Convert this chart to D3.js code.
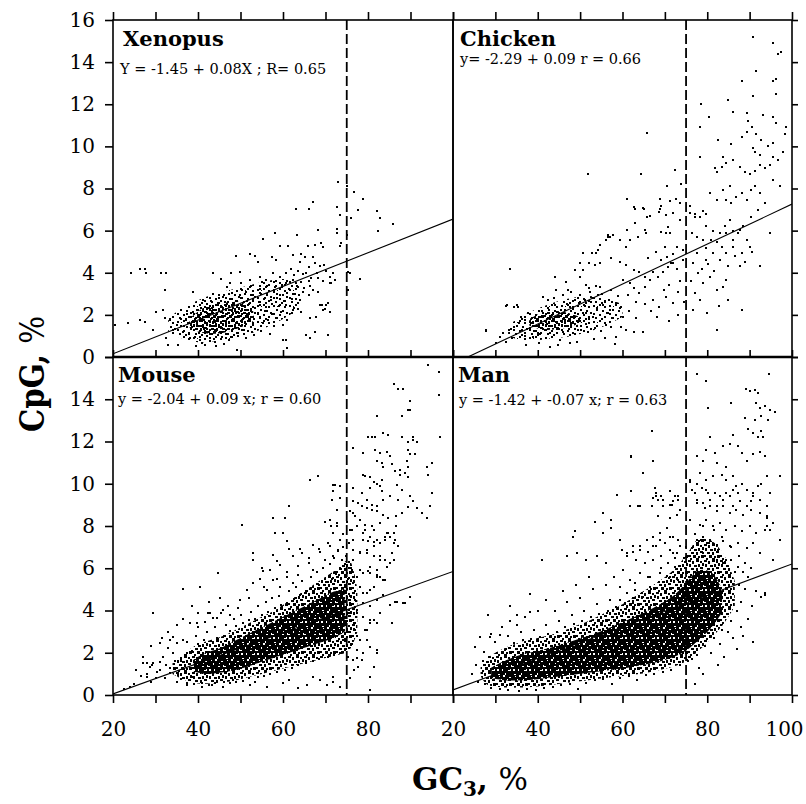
<!DOCTYPE html>
<html><head><meta charset="utf-8">
<script src="https://cdn.jsdelivr.net/npm/d3@7"></script>
<style>body{margin:0;background:#fff}svg{display:block}</style>
</head><body>
<svg id="c" width="806" height="804"></svg>
<script>
// ---------------- DATA ----------------
const panels = ["Xenopus", "Chicken", "Mouse", "Man"];
const equations = [
  "Y = -1.45 + 0.08X ; R= 0.65",
  "y= -2.29 + 0.09 r = 0.66",
  "y = -2.04 + 0.09 x; r = 0.60",
  "y = -1.42 + -0.07 x; r = 0.63"
];
// regression lines as drawn in the picture
const fitIntercepts = [-1.45, -2.23, -1.40, -1.25];
const fitSlopes = [0.080, 0.0949, 0.0725, 0.0745];
const cutoffGC3 = 75;
const xDomain = [20, 100];
const yDomain = [0, 16];
const xTicks = [20, 30, 40, 50, 60, 70, 80, 90, 100];
const xLabelsLeft = [20, 40, 60, 80];
const xLabelsRight = [20, 40, 60, 80, 100];
const yTicks = [0, 2, 4, 6, 8, 10, 12, 14, 16];
const yLabelsTop = [0, 2, 4, 6, 8, 10, 12, 14, 16];
const yLabelsBottom = [0, 2, 4, 6, 8, 10, 12, 14];

// scatter points (GC3 %, CpG %), flat x,y lists
const xenopusPts = [
72.9,8.3, 75.0,8.1, 76.8,7.85, 78.9,7.5, 77.7,7.0, 82.0,6.95, 82.4,6.0, 82.8,6.6, 85.8,6.3, 76.0,6.6, 72.6,7.1, 73.4,6.75, 72.6,6.1, 75.0,5.8, 78.0,3.7, 75.4,4.05, 75.2,3.2,
67.0,7.35, 66.0,7.05, 63.0,7.05, 68.3,6.05, 63.4,5.8, 58.1,5.9, 55.4,5.6, 72.8,5.9, 59.2,5.27, 61.2,5.27, 65.9,5.27, 67.6,5.3, 69.0,5.4, 69.4,5.24, 73.7,5.4, 73.3,5.27,
49.0,4.8, 52.2,4.87, 53.3,4.8, 54.1,4.5, 57.3,4.76, 58.4,4.6, 62.4,4.84, 64.3,4.9, 65.1,4.73, 63.9,4.5, 67.1,4.73, 67.5,4.45, 68.6,4.3, 70.2,4.1,
24.3,4.0, 26.3,4.16, 27.5,4.16, 27.8,4.0, 31.4,4.0, 32.5,4.0, 32.2,3.2, 38.8,3.1, 43.5,3.97, 47.8,3.97, 49.8,4.05, 45.5,3.7, 47.5,3.5, 50.2,3.5, 52.2,3.65,
54.5,3.8, 56.1,3.65, 57.6,4.0, 59.2,3.8, 60.8,4.0, 62.7,3.9, 65.5,4.0, 66.7,3.73, 68.2,3.73, 71.0,3.8, 72.2,3.65, 71.4,3.5, 75.7,3.97, 67.1,3.2, 68.2,3.1, 66.3,3.35,
68.6,2.47, 70.2,2.47, 71.0,2.15, 69.4,2.23, 63.5,2.3, 64.3,2.15, 66.3,1.84, 67.8,1.9, 65.5,1.04, 60.8,0.8, 30.2,2.15, 31.8,2.23, 26.3,1.76, 23.5,1.6, 20.4,1.5,
27.5,1.68, 29.4,1.3, 32.2,1.84, 33.3,1.76, 34.1,1.3, 32.5,0.9, 35.7,1.1, 39.6,0.5, 41.6,0.55, 44.3,0.5, 49.1,0.33, 60.9,0.41, 33.0,0.55, 35.3,0.55, 67.5,1.2,
70.7,1.04, 66.4,0.89, 60.1,0.8, 69.1,2.47, 70.7,2.55, 69.9,2.3, 71.8,3.97, 71.0,3.5,
38.2,0.9, 40.5,0.8, 42.1,1.0, 43.8,0.85, 45.6,0.95, 47.2,0.8, 49.5,1.0, 51.3,0.9, 53.2,1.05,
36.4,1.2, 37.9,1.1, 39.1,1.3, 40.3,1.15, 41.6,1.25, 42.8,1.1, 44.0,1.3, 45.2,1.2, 46.7,1.1, 48.0,1.28, 49.3,1.15, 50.8,1.3, 52.6,1.2, 54.9,1.25, 57.0,1.1,
35.1,1.5, 36.6,1.45, 37.6,1.6, 38.7,1.42, 39.8,1.55, 40.9,1.48, 42.0,1.6, 43.1,1.45, 44.3,1.58, 45.4,1.42, 46.5,1.55, 47.7,1.48, 48.9,1.6, 50.1,1.45, 51.4,1.55, 53.0,1.5, 55.2,1.6, 57.8,1.45, 59.9,1.5,
36.0,1.8, 37.2,1.75, 38.3,1.9, 39.4,1.72, 40.5,1.85, 41.5,1.78, 42.6,1.92, 43.7,1.75, 44.8,1.88, 45.9,1.72, 47.0,1.85, 48.1,1.78, 49.2,1.9, 50.4,1.75, 51.7,1.88, 53.1,1.8, 54.6,1.9, 56.4,1.75, 58.5,1.85, 61.0,1.78,
37.5,2.05, 38.9,2.15, 40.0,2.0, 41.1,2.2, 42.3,2.05, 43.4,2.18, 44.5,2.02, 45.6,2.15, 46.8,2.05, 47.9,2.2, 49.0,2.08, 50.2,2.2, 51.5,2.05, 52.8,2.15, 54.2,2.1, 55.8,2.2, 57.5,2.05, 59.6,2.15, 62.0,2.1,
39.0,2.4, 40.6,2.35, 42.0,2.5, 43.2,2.32, 44.4,2.45, 45.7,2.38, 46.9,2.5, 48.2,2.35, 49.5,2.48, 50.8,2.4, 52.1,2.5, 53.4,2.35, 54.7,2.45, 56.0,2.38, 57.4,2.5, 59.0,2.4, 60.7,2.48, 62.6,2.35,
41.2,2.7, 43.0,2.65, 44.9,2.78, 46.3,2.62, 47.6,2.75, 48.9,2.68, 50.2,2.8, 51.6,2.65, 53.0,2.75, 54.4,2.62, 55.7,2.78, 57.1,2.7, 58.6,2.8, 60.3,2.66, 62.1,2.75, 64.0,2.7,
43.6,3.0, 46.0,2.95, 48.0,3.05, 49.8,2.92, 51.3,3.1, 53.0,2.95, 54.6,3.05, 56.2,2.98, 57.8,3.1, 59.3,2.95, 61.0,3.05, 62.8,3.0, 64.6,3.1, 66.0,2.95,
46.8,3.3, 50.0,3.25, 52.4,3.35, 54.5,3.22, 56.3,3.38, 58.0,3.3, 59.7,3.4, 61.5,3.25, 63.3,3.35, 65.0,3.28,
55.0,3.55, 58.4,3.6, 60.6,3.5, 62.4,3.65, 64.2,3.55, 66.0,3.62, 69.5,3.6, 61.8,4.2, 63.6,4.1, 66.0,4.25, 68.0,4.0, 69.7,4.35, 64.8,3.95,
38.5,1.65, 39.9,2.25, 41.3,1.35, 42.5,2.35, 43.9,1.65, 45.0,2.55, 46.2,1.32, 47.4,2.25, 48.6,1.4, 44.1,0.7, 41.0,0.65, 46.0,0.6, 47.7,0.95, 39.4,0.95, 42.9,0.75
];

const chickenPts = [
90.7,15.2, 95.5,14.9, 96.7,14.4, 97.5,14.5, 95.5,13.1, 96.3,13.2, 96.3,12.5, 88.1,13.1, 84.9,12.2, 90.7,12.4, 91.6,13.6, 78.6,12.0, 80.5,11.4, 86.1,11.65, 89.3,11.57, 93.2,11.5, 95.5,11.4, 96.3,11.1,
78.3,10.9, 82.6,10.3, 85.7,10.1, 88.1,10.45, 89.3,10.7, 90.5,10.9, 89.7,11.2, 91.6,10.6, 92.8,10.3, 94.4,10.0, 95.5,10.15, 98.7,10.9, 98.3,10.6, 97.9,9.75,
90.9,9.9, 91.3,9.75, 92.4,9.6, 83.8,9.5, 84.5,9.2, 86.1,9.35, 81.8,8.95, 82.2,8.8, 83.4,9.0, 87.7,9.0, 88.9,8.8, 90.1,8.7, 91.2,8.85, 92.4,9.1, 93.6,8.95, 94.8,9.1, 95.5,9.5, 96.7,9.35,
78.3,9.5, 65.7,10.65, 51.9,8.7, 64.3,8.7, 72.4,8.9, 73.9,8.2, 61.0,7.5, 62.9,7.05, 65.0,7.05, 68.8,7.5, 69.2,7.15, 71.2,7.4, 72.7,7.5, 73.5,7.3, 75.9,7.15, 77.1,6.8, 78.3,6.65, 79.1,6.95, 79.8,6.8,
80.6,7.77, 82.2,7.45, 83.8,7.93, 85.3,8.1, 84.5,7.45, 85.7,7.3, 86.9,7.6, 88.1,7.77, 89.3,7.45, 90.4,7.93, 91.2,8.1, 92.4,7.77, 93.6,7.3, 95.5,8.4, 97.1,8.1,
79.8,6.2, 81.4,6.0, 83.0,5.87, 84.2,6.2, 85.3,6.5, 86.1,6.0, 87.3,5.87, 88.5,6.2, 90.4,6.65, 92.0,7.0,
89.3,5.55, 90.0,5.24, 88.1,4.92, 86.1,5.24, 84.5,4.92, 83.4,5.24, 81.4,4.92, 79.8,4.6, 77.5,4.92, 76.7,4.45,
77.9,3.97, 79.0,3.5, 80.6,3.8, 82.2,3.18, 83.8,3.34, 84.5,3.65, 87.7,4.3, 92.4,4.3, 94.8,5.87, 88.1,2.23, 82.2,1.28, 77.1,3.02, 78.3,2.7, 76.7,2.23,
75.9,6.82, 77.1,6.66, 76.3,5.87, 77.5,5.71, 79.0,5.55, 79.8,5.16, 81.0,5.55, 82.2,5.47, 84.5,5.87, 86.1,5.55, 87.7,6.03,
70.4,8.1, 68.8,7.05, 72.0,6.82, 73.5,6.5, 71.2,5.87, 72.8,5.24, 74.3,4.6, 72.0,4.45, 70.4,4.76,
65.7,6.66, 61.0,6.03, 62.9,6.35, 59.4,5.55, 56.6,5.68, 54.7,5.32, 52.7,4.92, 33.4,4.2, 32.7,2.47, 35.0,2.47, 27.9,1.28,
27.7,1.23, 32.6,2.42, 34.5,2.39, 35.3,2.39, 31.0,0.97, 31.8,1.12, 30.2,0.65, 34.5,1.44, 36.1,1.91, 36.9,1.76, 37.7,2.07, 38.1,1.36, 38.9,0.97, 40.0,1.12,
41.2,2.86, 42.4,2.7, 44.0,3.78, 47.1,3.18, 48.7,2.7, 47.5,2.39, 49.9,4.48, 50.7,4.92, 52.2,4.45, 53.4,4.37, 54.6,4.48,
48.7,4.13, 49.9,3.81, 51.4,3.42, 52.2,3.26, 53.8,3.37, 54.6,3.31, 51.1,2.7, 53.0,2.78, 54.2,2.94, 55.8,2.63, 56.9,2.7, 58.5,2.55, 59.3,2.31,
51.4,2.07, 53.0,1.91, 54.6,1.99, 56.6,2.07, 57.7,1.84, 60.1,1.91, 53.8,4.92, 57.0,5.71, 57.7,5.79, 60.9,5.24, 61.7,5.55, 63.6,5.71, 65.2,6.03, 65.6,5.87,
57.3,4.68, 59.3,4.53, 60.9,4.37, 62.8,4.13, 64.0,4.05, 65.2,3.81, 66.4,3.65, 67.2,4.05, 68.3,3.81, 69.5,4.05, 70.7,4.29, 71.5,4.45,
60.1,3.65, 61.7,3.5, 62.8,3.26, 64.0,3.02, 65.2,3.34, 67.2,2.7, 68.7,2.39, 70.3,2.86, 71.9,2.55, 59.7,1.44, 60.9,1.28, 62.8,1.2, 64.8,1.2,
56.2,1.52, 57.3,1.44, 58.5,0.97, 47.5,0.65, 45.2,0.81, 42.8,0.49, 40.4,0.65, 37.3,0.57,
62.8,7.14, 64.8,7.06, 66.4,6.69, 68.7,6.9, 70.3,6.74, 70.7,6.19, 69.1,5.95, 70.3,5.87, 56.6,5.79, 56.2,5.55, 54.2,5.08, 50.7,4.13, 46.7,3.58, 44.4,3.18,
38.5,1.6, 39.3,1.85, 40.1,1.45, 40.8,1.7, 41.5,1.95, 42.2,1.55, 42.9,1.8, 43.6,2.05, 44.3,1.65, 45.0,1.9, 45.7,1.5, 46.4,1.75, 47.1,2.0, 47.8,1.6, 48.5,1.85, 49.2,1.45, 49.9,1.7, 50.6,2.1, 51.3,1.55, 52.0,1.8,
39.0,1.25, 40.5,1.1, 41.8,1.3, 43.0,1.15, 44.6,1.32, 46.0,1.2, 47.4,1.35, 48.9,1.1, 50.3,1.3, 51.9,1.18, 53.5,1.4, 55.0,1.25,
41.0,2.2, 42.5,2.35, 44.0,2.45, 45.4,2.25, 46.9,2.5, 48.3,2.3, 49.7,2.55, 51.2,2.4, 52.6,2.6, 54.0,2.35, 55.5,2.45, 57.0,2.25,
37.0,1.0, 36.2,1.3, 35.5,1.6, 34.0,0.9, 33.2,1.3, 32.4,0.7, 43.8,2.8, 45.9,2.95, 47.9,3.1, 50.0,2.95, 52.4,3.1, 55.1,3.0, 57.3,3.2, 58.9,2.9, 61.2,2.95, 63.3,2.6, 65.4,2.5, 66.8,2.2, 68.1,1.9, 63.1,1.85, 61.5,2.2,
53.2,0.85, 55.8,0.9, 58.3,0.6, 49.3,0.7, 44.8,0.55,
66.0,4.7, 67.8,5.0, 69.0,4.6, 70.0,5.2, 71.8,4.9, 72.9,4.2, 73.6,3.6, 74.2,5.1, 73.0,3.1, 71.0,3.4, 69.8,3.2, 74.6,2.6, 73.2,2.0, 70.9,1.7, 76.2,3.6, 78.8,4.2, 80.2,4.4, 81.6,4.1, 83.0,4.6, 84.8,4.3, 86.6,4.8, 88.8,4.5, 90.6,5.0, 85.0,2.7, 82.8,2.4, 80.0,2.1
];

const mousePts = [
94.0,15.6, 96.8,15.3, 96.6,14.2, 86.0,14.7, 87.1,14.5, 88.3,14.5, 89.9,13.9, 89.5,13.5, 82.2,13.2, 87.9,13.2, 89.9,13.5,
80.1,12.2, 80.9,12.2, 81.6,12.2, 83.6,12.4, 84.8,12.3, 87.9,12.2, 90.7,12.2, 91.5,12.0, 96.9,12.2, 89.5,12.0, 90.7,12.05,
76.5,11.7, 78.9,11.45, 81.6,11.6, 82.8,11.45, 84.4,11.5, 85.2,11.3, 82.0,11.1, 83.6,10.8, 85.6,10.95, 87.5,10.66, 88.7,10.5, 89.5,10.8, 93.8,10.8, 95.0,11.0,
89.5,11.6, 89.9,11.4, 91.1,11.4, 83.2,11.0, 89.1,11.1, 94.2,10.4, 78.9,10.4, 80.5,10.3, 82.0,10.0, 83.2,10.2, 86.4,10.6, 87.5,10.4, 89.5,10.3,
79.3,10.35, 81.3,10.1, 82.8,9.87, 71.8,9.95, 73.4,9.87, 66.4,10.2, 68.3,10.35, 76.5,9.8, 80.5,9.8, 83.2,9.67, 86.8,9.95, 87.9,9.7,
78.5,9.56, 79.7,9.24, 80.9,9.0, 82.0,8.93, 83.6,9.24, 85.2,9.4, 90.7,9.2, 89.5,8.9, 91.5,8.85, 95.0,9.56, 92.6,8.6, 93.8,8.4, 87.1,9.24, 89.9,9.4, 94.6,8.93,
87.9,8.6, 86.7,7.98, 86.0,7.66, 76.5,8.6, 78.1,8.3, 77.3,7.98, 79.3,7.82, 80.5,7.5, 82.0,7.35, 84.0,7.5, 84.8,7.66, 86.4,7.35, 87.1,7.03, 85.6,6.71,
76.5,9.16, 77.7,9.08, 78.5,8.93, 79.7,8.85, 80.9,8.77, 82.0,8.69, 83.6,8.53, 84.8,8.37, 86.7,8.45, 75.8,8.69, 77.0,8.45, 79.3,8.06, 80.9,7.98, 82.8,8.14, 84.4,7.66, 85.2,7.5,
75.8,7.82, 78.9,7.35, 80.1,7.27, 81.3,7.22, 82.8,7.19, 84.0,7.35, 86.0,7.19, 76.5,6.87, 78.1,6.79, 79.7,6.71, 81.3,6.56, 82.8,6.56, 84.0,6.4, 85.2,6.24, 86.0,6.4,
76.2,5.92, 77.3,5.6, 78.9,5.77, 80.1,5.85, 82.0,5.69, 82.8,5.6, 84.0,5.45, 82.8,6.4, 84.4,6.08, 82.0,5.92, 80.5,5.77, 83.6,5.45,
78.9,4.82, 80.5,4.98, 82.0,4.5, 83.6,4.74, 85.2,4.27, 86.8,4.38, 88.3,4.34, 89.9,4.66, 77.3,3.87, 78.9,3.71, 80.5,3.55, 82.0,3.4, 82.8,3.87, 86.4,4.4, 88.7,4.35, 85.6,3.4,
79.7,2.6, 82.0,2.13, 78.5,1.66, 77.3,1.74, 82.0,1.97, 79.3,3.08, 80.5,3.4, 71.8,0.63, 80.5,0.24,
72.2,9.95, 71.8,9.64, 71.5,9.24, 73.4,9.32, 72.6,8.77, 71.1,8.29, 72.6,7.98, 71.8,7.66, 73.4,7.35, 71.1,7.03, 73.0,6.87, 71.8,6.56, 73.8,6.4,
50.3,8.05, 57.7,8.4, 60.5,8.4, 58.1,7.66, 60.0,7.66, 61.3,8.93, 60.9,7.27, 53.0,6.7, 53.0,6.4, 55.0,6.0, 55.4,5.85, 57.7,6.63, 58.5,6.32,
44.8,5.77, 40.5,5.1, 36.4,5.0, 45.2,4.6, 29.5,3.9, 31.1,2.45, 27.9,1.5, 29.1,1.42, 33.4,2.6, 38.1,3.4, 40.1,3.24, 42.4,3.87, 43.6,3.63,
67.1,7.11, 69.9,8.2, 71.2,7.98, 72.6,8.14, 57.7,6.63, 59.3,6.16, 62.4,6.56, 64.4,6.71, 66.0,6.24, 67.1,5.92, 68.7,6.79, 69.9,6.4,
49.9,4.5, 51.5,4.98, 53.0,5.3, 56.2,4.98, 57.7,5.45, 59.3,5.13, 60.9,5.6, 62.4,5.3, 63.6,5.69, 39.7,3.4, 41.6,3.47, 42.8,3.87, 44.4,3.63, 45.9,4.03, 47.5,3.79,
34.2,2.76, 35.0,2.45, 36.5,2.6, 33.0,2.21, 31.8,1.82, 31.1,1.58, 29.5,1.5, 28.7,1.34, 27.1,1.5, 27.9,0.87, 30.3,1.1, 32.2,0.79, 33.4,1.03, 35.0,0.63, 37.3,0.47, 38.9,0.87,
40.9,0.4, 43.2,0.47, 45.9,0.4, 48.3,0.71, 52.2,0.47, 53.4,0.63, 56.2,0.4, 60.1,0.55, 61.3,0.71, 63.6,0.32, 65.6,0.47, 67.1,0.87, 68.7,0.71, 70.3,0.47, 71.8,0.87, 73.4,0.4,
75.8,3.55, 76.9,3.08, 78.1,2.6, 77.3,2.13, 78.9,1.97, 80.5,2.29, 79.7,3.08, 81.3,3.55, 76.5,1.66, 77.7,1.34, 80.5,0.87, 81.3,1.34, 75.8,4.34, 77.3,4.03, 78.9,4.34, 80.5,4.19, 82.0,4.5,
78.1,5.13, 79.7,4.82, 81.3,5.13, 82.0,5.6, 80.5,6.08, 78.1,5.92, 76.5,6.4, 78.1,6.71, 79.7,6.87, 81.3,7.03, 76.5,7.35, 78.9,7.66, 81.3,7.82, 82.0,7.35,
36.0,0.75, 37.5,0.55, 39.0,0.5, 41.0,0.55, 42.5,0.45, 44.0,0.55, 46.0,0.6, 47.5,0.55, 49.0,0.6, 50.5,0.65, 52.0,0.8, 54.0,0.85, 55.5,0.9, 57.0,1.0, 58.5,1.1, 60.5,1.2, 62.0,1.3, 63.5,1.4, 65.5,1.5, 67.0,1.6, 68.5,1.7, 70.5,1.8, 72.0,1.9, 73.5,2.0, 74.8,2.2,
36.0,1.6, 37.0,1.9, 38.5,2.1, 40.0,2.4, 41.5,2.6, 43.0,2.55, 44.5,2.7, 46.0,2.8, 47.5,3.05, 49.0,3.25, 50.5,3.4, 52.0,3.55, 53.5,3.6, 55.0,3.8, 56.5,3.95, 58.0,4.1, 59.5,4.25, 61.0,4.35, 62.5,4.55, 64.0,4.75, 65.5,4.9, 67.0,5.1, 68.5,5.2, 70.0,5.35, 71.5,5.5, 72.5,5.75, 73.5,6.0, 74.5,6.2,
37.5,2.5, 39.5,2.8, 42.0,3.0, 44.0,3.2, 46.5,3.3, 48.5,3.6, 50.0,3.8, 52.5,3.95, 54.0,4.2, 56.0,4.4, 57.5,4.6, 59.0,4.7, 61.5,4.9, 63.0,5.1, 64.5,5.4, 66.5,5.6, 68.0,5.8, 69.5,6.0, 71.0,6.2, 72.0,6.5, 73.0,6.8, 74.0,7.0,
33.5,1.3, 34.5,1.6, 35.2,0.95, 36.6,1.25, 34.0,2.0, 32.5,1.4, 31.0,1.2, 30.0,0.8, 29.0,0.6, 28.0,1.0, 26.5,0.9, 25.0,0.5, 24.0,0.4, 22.5,0.3,
45.5,3.9, 47.0,4.2, 49.5,4.1, 52.0,4.6, 55.5,5.1, 58.5,5.5, 61.0,5.8, 63.5,6.1, 66.0,6.5, 68.5,6.9, 70.5,7.2, 64.0,6.9, 61.5,6.9, 57.0,5.9, 54.5,5.5, 42.5,4.4, 40.0,3.9, 38.5,4.2, 36.5,3.6, 35.0,3.3, 33.0,3.0, 31.5,2.7, 29.0,2.3, 27.0,1.8, 25.5,1.2,
74.0,2.6, 75.0,3.0, 74.5,3.5, 75.5,3.9, 74.2,4.3, 75.8,4.7, 74.6,5.1, 75.2,5.5, 76.0,6.0, 74.8,6.6, 75.6,7.2, 76.3,7.8, 75.0,8.2, 74.2,7.6, 76.5,5.3, 77.0,4.5, 76.8,3.4, 77.5,2.8, 76.2,2.4, 75.4,1.8, 76.8,1.2, 75.8,0.8
];

const manPts = [
77.5,15.2, 79.7,14.85, 94.6,15.2, 89.1,14.5, 90.0,14.4, 91.2,14.45, 92.0,14.3, 85.7,13.8, 80.2,13.6, 91.6,13.8, 92.4,13.6, 93.6,13.7, 94.8,13.5, 95.9,13.4, 92.8,13.2, 94.4,13.0, 91.2,13.0,
88.9,13.1, 89.7,12.6, 90.8,12.4, 92.0,12.2, 92.8,12.5, 93.2,12.2, 66.9,12.5, 86.1,12.3, 85.3,11.9, 87.3,11.8, 88.1,11.45, 89.3,11.1, 90.8,11.4, 92.4,11.5, 93.6,11.3,
80.6,12.2, 79.8,11.6, 81.8,11.45, 83.8,11.8, 82.2,11.0, 84.5,10.8, 77.5,11.3, 79.0,11.1, 62.1,11.3, 67.1,11.1, 64.9,10.5, 94.0,10.35, 97.1,10.35, 61.9,11.26,
78.3,10.5, 79.8,10.2, 81.4,10.35, 83.4,10.4, 84.5,10.2, 86.1,10.35, 86.9,9.87, 88.1,10.0, 89.3,9.7, 90.8,9.56, 92.0,9.87, 92.8,10.0, 94.8,9.56,
75.9,10.1, 77.1,9.56, 77.5,9.24, 79.0,9.08, 80.2,9.56, 80.6,9.24, 82.2,8.93, 83.8,9.24, 85.3,9.4, 86.1,8.93, 87.7,9.16, 89.3,8.93, 90.4,9.16, 92.4,9.24, 94.0,8.93,
58.6,9.48, 62.1,9.64, 64.1,8.96, 68.0,9.4, 69.6,9.24, 71.2,9.0, 72.0,9.16, 73.1,9.4, 55.5,8.6, 57.4,8.3, 53.5,8.2, 48.8,7.74, 48.4,7.5, 55.5,7.66, 57.4,7.9, 59.4,7.35,
59.8,6.87, 61.0,6.71, 62.5,7.03, 64.1,6.87, 65.7,7.35, 67.2,7.03, 68.8,7.35, 71.2,7.5, 72.0,6.71, 73.5,7.03, 40.9,6.4, 46.8,6.56, 49.2,6.71, 51.5,6.4, 53.9,6.56, 56.2,6.24,
94.0,8.45, 94.8,7.82, 94.0,7.98, 95.5,8.14, 92.8,4.66, 93.6,4.74, 90.8,2.53, 82.6,1.42, 28.3,3.8, 26.4,2.76, 28.7,2.76, 31.1,2.84, 33.4,4.2, 38.2,4.8, 33.4,3.5, 25.2,2.29, 27.2,2.05, 38.2,3.95, 35.0,3.79,
59.4,4.5, 61.0,4.19, 62.5,4.34, 57.8,4.03, 63.7,8.93, 61.7,8.93, 67.6,9.8, 68.0,9.56, 69.2,9.4, 71.2,9.64, 72.4,9.4, 73.1,9.24, 67.3,9.32, 68.4,9.24, 66.9,8.93, 69.6,8.93, 71.6,9.0, 73.5,8.77,
68.4,8.45, 71.2,8.37, 72.8,8.53, 75.9,10.2, 77.5,10.0, 78.7,9.8, 76.3,9.72, 79.8,9.72, 81.8,9.56, 83.0,9.4, 84.5,9.56, 86.1,9.72, 87.3,9.56, 89.3,9.72, 90.8,9.4,
77.5,9.08, 79.4,8.85, 80.6,8.93, 82.2,8.69, 83.8,8.93, 85.3,8.61, 86.9,8.77, 88.5,8.53, 90.4,8.77, 92.4,8.61, 94.0,8.37,
75.9,8.29, 78.3,8.06, 79.8,8.29, 81.4,7.98, 83.0,8.14, 84.5,7.82, 86.5,7.98, 88.1,7.74, 90.1,7.98, 91.6,7.66, 93.6,7.82,
77.5,7.35, 79.0,7.5, 80.6,7.35, 82.2,7.11, 83.8,7.27, 85.3,7.03, 87.3,7.19, 89.3,6.95, 90.8,7.19, 92.4,6.71,
70.4,7.9, 68.8,7.66, 67.3,7.5, 72.0,7.5, 73.1,7.35, 70.0,7.19, 68.0,7.03, 71.2,6.87, 72.8,6.71, 65.7,7.35, 64.1,7.03, 62.5,6.79, 66.1,6.79, 61.0,6.56, 63.3,6.4, 65.3,6.24, 67.3,6.4, 69.2,6.56, 70.8,6.24,
75.9,6.56, 77.5,6.4, 79.0,6.71, 80.6,6.56, 82.2,6.4, 83.8,6.24, 85.7,6.4, 87.3,6.08, 88.9,6.24, 90.4,6.0,
64.1,5.77, 66.5,5.6, 68.8,5.77, 71.2,5.6, 73.1,5.45, 61.7,5.45, 60.2,5.92, 59.4,5.13, 61.0,4.82, 62.9,4.98, 64.9,4.66, 93.6,4.82, 95.5,6.4, 97.1,7.35,
27.5,0.5, 29.0,0.35, 31.0,0.3, 33.0,0.25, 35.5,0.2, 37.5,0.3, 39.5,0.25, 41.5,0.35, 43.5,0.4, 45.5,0.45, 47.5,0.5, 49.5,0.3, 51.5,0.55, 53.5,0.7, 55.5,0.75, 57.5,0.5, 59.5,0.8, 61.5,0.9, 63.5,0.7, 65.5,0.95, 67.5,1.0, 69.5,1.1, 71.5,1.2, 73.5,1.4, 75.5,1.6, 77.5,1.9, 79.5,2.3, 81.5,2.7, 83.5,3.1, 85.5,3.5, 87.0,4.0,
27.0,1.6, 28.5,1.8, 30.5,2.0, 32.5,2.2, 34.5,2.45, 36.5,2.6, 38.5,2.65, 40.5,2.75, 42.5,2.9, 44.5,3.0, 46.5,3.2, 48.5,3.35, 50.5,3.5, 52.5,3.7, 54.5,3.85, 56.5,4.0, 58.5,4.15, 60.5,4.35, 62.5,4.6, 64.5,4.85, 66.5,5.1, 68.5,5.35, 70.5,5.65, 72.5,6.05, 74.5,6.5, 76.5,6.95, 78.5,7.35, 80.5,7.2, 82.5,6.85, 84.5,6.4, 86.5,5.8, 87.5,5.2,
30.0,2.5, 33.0,2.8, 36.0,3.0, 39.0,3.1, 42.0,3.3, 45.0,3.5, 48.0,3.8, 51.0,4.0, 54.0,4.3, 57.0,4.5, 63.0,5.3, 66.0,5.6, 69.0,6.0, 72.5,6.5, 75.0,7.0, 77.0,7.6, 79.0,8.0, 81.5,7.8, 83.5,7.5, 85.5,7.0, 87.5,6.6, 88.5,5.8, 89.0,5.0, 88.0,4.4,
44.0,4.0, 47.0,4.4, 50.0,4.6, 53.0,5.0, 56.0,5.2, 58.0,5.6, 52.0,5.6, 49.0,5.2, 46.0,4.9, 42.0,4.5, 40.0,4.0, 37.0,3.7, 35.0,3.3, 31.5,3.2, 29.0,2.9, 25.5,1.4, 24.5,1.0, 26.0,0.6,
81.0,2.0, 83.0,2.4, 84.0,1.8, 86.0,2.7, 85.0,3.0, 88.0,3.2, 87.0,2.2, 89.5,3.6, 90.5,4.2, 91.5,4.9, 89.5,5.6, 88.5,2.8, 76.5,1.7, 78.0,1.3, 79.0,1.0, 77.0,0.5
];

// envelopes of the overplotted parts of each cloud (GC3 positions, lower / upper CpG)
const xenopusOuterX = [33, 36, 40, 44, 48, 52, 56, 60, 64];
const xenopusOuterLo = [1.2, 0.9, 0.7, 0.75, 0.85, 1.1, 1.4, 1.8, 2.3];
const xenopusOuterHi = [1.8, 2.3, 2.7, 3.0, 3.2, 3.4, 3.6, 3.7, 3.5];
const xenopusInnerX = [38, 41, 44, 47, 50, 53];
const xenopusInnerLo = [1.4, 1.15, 1.1, 1.2, 1.4, 1.7];
const xenopusInnerHi = [1.8, 2.3, 2.5, 2.6, 2.6, 2.3];
const chickenOuterX = [33, 36, 40, 44, 48, 52, 56, 60];
const chickenOuterLo = [1.0, 0.8, 0.8, 0.9, 1.0, 1.2, 1.5, 1.9];
const chickenOuterHi = [1.5, 1.9, 2.3, 2.6, 2.8, 2.9, 2.8, 2.5];
const chickenInnerX = [38, 41, 44, 47, 50];
const chickenInnerLo = [1.5, 1.3, 1.3, 1.4, 1.6];
const chickenInnerHi = [1.8, 2.1, 2.2, 2.1, 1.9];
const mouseOuterX = [34, 37, 40, 43, 46, 49, 52, 55, 58, 61, 64, 67, 70, 73, 75.5, 77.5];
const mouseOuterLo = [1.0, 0.7, 0.55, 0.55, 0.6, 0.7, 0.85, 1.0, 1.15, 1.3, 1.45, 1.6, 1.75, 1.9, 2.1, 3.0];
const mouseOuterHi = [1.5, 2.0, 2.4, 2.6, 2.8, 3.1, 3.4, 3.7, 4.0, 4.4, 4.8, 5.2, 5.6, 6.0, 6.4, 5.0];
const mouseInnerX = [39, 42, 45, 48, 51, 54, 57, 60, 63, 66, 69, 72, 74.5];
const mouseInnerLo = [1.1, 1.0, 1.05, 1.15, 1.3, 1.5, 1.7, 1.9, 2.1, 2.3, 2.5, 2.7, 3.0];
const mouseInnerHi = [1.7, 2.0, 2.2, 2.5, 2.8, 3.1, 3.4, 3.7, 4.0, 4.3, 4.6, 4.9, 5.0];
const manOuterX = [26.5, 28, 30, 33, 36, 40, 44, 48, 52, 56, 60, 64, 68, 72, 75, 78, 81, 84, 86.5];
const manOuterLo = [0.9, 0.5, 0.4, 0.35, 0.35, 0.4, 0.5, 0.6, 0.7, 0.8, 0.9, 1.0, 1.15, 1.35, 1.6, 2.1, 2.7, 3.4, 4.2];
const manOuterHi = [1.3, 1.7, 2.0, 2.3, 2.5, 2.7, 2.9, 3.2, 3.5, 3.9, 4.3, 4.8, 5.3, 5.9, 6.6, 7.4, 7.3, 6.6, 5.4];
const manInnerX = [29, 32, 36, 40, 44, 48, 52, 56, 60, 64, 68, 72, 75, 78, 81, 83.5];
const manInnerLo = [0.8, 0.7, 0.7, 0.75, 0.85, 0.95, 1.05, 1.15, 1.25, 1.4, 1.55, 1.8, 2.1, 2.6, 3.2, 3.9];
const manInnerHi = [1.3, 1.6, 1.9, 2.1, 2.3, 2.55, 2.8, 3.1, 3.45, 3.8, 4.2, 4.7, 5.3, 5.9, 5.8, 5.0];

// ---------------- LAYOUT / STYLE ----------------
const colRange = [[113, 453], [453, 792]];
const rowRange = [[20, 357], [357, 695]];
const labelPos = [
  {nx: 10, ny: 26, ex: 7, ey: 54},
  {nx: 7, ny: 26, ex: 7, ey: 44},
  {nx: 5, ny: 25, ex: 5, ey: 47},
  {nx: 5, ny: 25, ex: 6, ey: 48}
];
const serif = "'DejaVu Serif', serif";
const svg = d3.select("#c");

// speckle textures that imitate overplotted dots
const defs = svg.append("defs");
const lightSpecks = [[1,1,2,2],[7,0,2,2],[12,2,2,2],[4,5,2,2],[10,6,2,2],[14,8,2,2],[1,9,2,2],[7,10,2,2],[12,12,2,2],[3,13,2,2],[9,14,2,2],[5,2,1,1]];
const medSpecks = [[0,0,3,2],[4,1,2,3],[8,0,3,2],[12,1,2,2],[14,3,2,3],[1,4,2,3],[6,5,3,2],[10,4,2,3],[3,8,3,2],[8,8,2,3],[12,7,3,2],[0,11,2,2],[5,11,3,3],[10,12,2,2],[13,11,3,3],[2,14,2,2],[8,14,3,2]];
const whiteSpecks = [[2,2,2,1],[9,1,1,2],[13,5,2,1],[5,7,1,2],[0,10,2,1],[10,10,2,1],[6,13,1,2],[14,13,1,2],[3,4,1,1],[11,7,1,1],[7,3,2,2],[1,13,2,2],[12,14,2,1],[15,9,1,2]];
function speckPattern(id, specks, bg) {
  const p = defs.append("pattern").attr("id", id).attr("patternUnits", "userSpaceOnUse")
    .attr("width", 16).attr("height", 16);
  if (bg) p.append("rect").attr("width", 16).attr("height", 16).attr("fill", "#000");
  p.selectAll("rect.s").data(specks).join("rect").attr("class", "s")
    .attr("x", d => d[0]).attr("y", d => d[1]).attr("width", d => d[2]).attr("height", d => d[3])
    .attr("fill", bg ? "#fff" : "#000");
}
speckPattern("speckLight", lightSpecks, false);
speckPattern("speckMed", medSpecks, false);
speckPattern("speckDense", whiteSpecks, true);

const pointSets = [xenopusPts, chickenPts, mousePts, manPts];
const envelopes = [
  [{x: xenopusOuterX, lo: xenopusOuterLo, hi: xenopusOuterHi, fill: "url(#speckLight)"},
   {x: xenopusInnerX, lo: xenopusInnerLo, hi: xenopusInnerHi, fill: "url(#speckMed)"}],
  [{x: chickenOuterX, lo: chickenOuterLo, hi: chickenOuterHi, fill: "url(#speckLight)"},
   {x: chickenInnerX, lo: chickenInnerLo, hi: chickenInnerHi, fill: "url(#speckMed)"}],
  [{x: mouseOuterX, lo: mouseOuterLo, hi: mouseOuterHi, fill: "url(#speckMed)"},
   {x: mouseInnerX, lo: mouseInnerLo, hi: mouseInnerHi, fill: "url(#speckDense)"}],
  [{x: manOuterX, lo: manOuterLo, hi: manOuterHi, fill: "url(#speckMed)"},
   {x: manInnerX, lo: manInnerLo, hi: manInnerHi, fill: "url(#speckDense)"}]
];

function toPairs(flat) { const a = []; for (let i = 0; i < flat.length; i += 2) a.push([flat[i], flat[i + 1]]); return a; }

panels.forEach((name, i) => {
  const c = i % 2, r = Math.floor(i / 2);
  const x = d3.scaleLinear().domain(xDomain).range(colRange[c]);
  const y = d3.scaleLinear().domain(yDomain).range([rowRange[r][1], rowRange[r][0]]);
  const g = svg.append("g");
  const cid = "clip" + i;
  defs.append("clipPath").attr("id", cid).append("rect")
    .attr("x", x(xDomain[0])).attr("y", y(yDomain[1]))
    .attr("width", x(xDomain[1]) - x(xDomain[0])).attr("height", y(yDomain[0]) - y(yDomain[1]));
  const pg = g.append("g").attr("clip-path", `url(#${cid})`);

  envelopes[i].forEach(env => {
    const idx = d3.range(env.x.length);
    const area = d3.area().curve(d3.curveCatmullRom)
      .x(k => x(env.x[k])).y0(k => y(env.lo[k])).y1(k => y(env.hi[k]));
    pg.append("path").attr("d", area(idx)).attr("fill", env.fill);
  });
  const pts = toPairs(pointSets[i]);
  pg.selectAll("rect.pt").data(pts).join("rect").attr("class", "pt")
    .attr("x", d => Math.round(x(d[0]) - 1)).attr("y", d => Math.round(y(d[1]) - 1))
    .attr("width", 2).attr("height", 2).attr("fill", "#000");

  const line = d3.line().x(d => x(d)).y(d => y(fitIntercepts[i] + fitSlopes[i] * d));
  pg.append("path").attr("d", line(xDomain)).attr("stroke", "#000").attr("stroke-width", 1.1).attr("fill", "none");
  pg.append("line").attr("x1", x(cutoffGC3)).attr("x2", x(cutoffGC3))
    .attr("y1", y(yDomain[1])).attr("y2", y(yDomain[0]))
    .attr("stroke", "#000").attr("stroke-width", 1.8).attr("stroke-dasharray", "10,4");

  g.append("rect").attr("x", x(xDomain[0])).attr("y", y(yDomain[1]))
    .attr("width", x(xDomain[1]) - x(xDomain[0])).attr("height", y(yDomain[0]) - y(yDomain[1]))
    .attr("fill", "none").attr("stroke", "#000").attr("stroke-width", 1.6);

  const styleAxis = sel => {
    sel.select(".domain").remove();
    sel.selectAll("line").attr("stroke", "#000").attr("stroke-width", 1.6);
    sel.selectAll("text").attr("font-family", serif).attr("font-size", 20).attr("fill", "#000");
  };
  if (c === 0) {
    const labs = r === 0 ? yLabelsTop : yLabelsBottom;
    g.append("g").attr("transform", `translate(${x(xDomain[0])},0)`)
      .call(d3.axisLeft(y).tickValues(yTicks).tickSize(8).tickPadding(10)
        .tickFormat(v => labs.includes(v) ? v : ""))
      .call(styleAxis);
  } else {
    g.append("g").attr("transform", `translate(${x(xDomain[1])},0)`)
      .call(d3.axisRight(y).tickValues(yTicks).tickSize(6).tickFormat(""))
      .call(styleAxis);
  }
  if (r === 0) {
    g.append("g").attr("transform", `translate(0,${y(yDomain[1])})`)
      .call(d3.axisTop(x).tickValues(xTicks).tickSize(8).tickFormat(""))
      .call(styleAxis);
    g.append("g").attr("transform", `translate(0,${y(yDomain[0])})`)
      .call(d3.axisBottom(x).tickValues(xTicks).tickSize(-7).tickFormat(""))
      .call(styleAxis);
  } else {
    const labs = c === 0 ? xLabelsLeft : xLabelsRight;
    const ax = g.append("g").attr("transform", `translate(0,${y(yDomain[0])})`)
      .call(d3.axisBottom(x).tickValues(xTicks).tickSize(8).tickPadding(19)
        .tickFormat(v => labs.includes(v) ? v : ""))
      .call(styleAxis);
    ax.selectAll("text").filter(v => v === xDomain[1]).attr("dx", -8);
  }

  const lp = labelPos[i];
  g.append("text").attr("x", x(xDomain[0]) + lp.nx).attr("y", y(yDomain[1]) + lp.ny)
    .attr("font-family", serif).attr("font-weight", "bold").attr("font-size", 21).text(name);
  g.append("text").attr("x", x(xDomain[0]) + lp.ex).attr("y", y(yDomain[1]) + lp.ey)
    .attr("font-family", serif).attr("font-size", 14.5).text(equations[i]);
});

svg.append("line").attr("x1", colRange[0][0]).attr("x2", colRange[1][1])
  .attr("y1", rowRange[0][1]).attr("y2", rowRange[0][1]).attr("stroke", "#000").attr("stroke-width", 2.6);

const yt = svg.append("text").attr("transform", "translate(44,374) rotate(-90)")
  .attr("text-anchor", "middle").attr("font-family", serif).attr("font-size", 33)
  .attr("textLength", 116).attr("lengthAdjust", "spacingAndGlyphs");
yt.append("tspan").attr("font-weight", "bold").text("CpG, ");
yt.append("tspan").text("%");

const xt = svg.append("text").attr("x", 470).attr("y", 790)
  .attr("text-anchor", "middle").attr("font-family", serif).attr("font-size", 31);
xt.append("tspan").attr("font-weight", "bold").text("GC");
xt.append("tspan").attr("font-weight", "bold").attr("font-size", 20).attr("dy", 6).text("3");
xt.append("tspan").attr("font-weight", "bold").attr("dy", -6).text(", ");
xt.append("tspan").text("%");
</script>
</body></html>
